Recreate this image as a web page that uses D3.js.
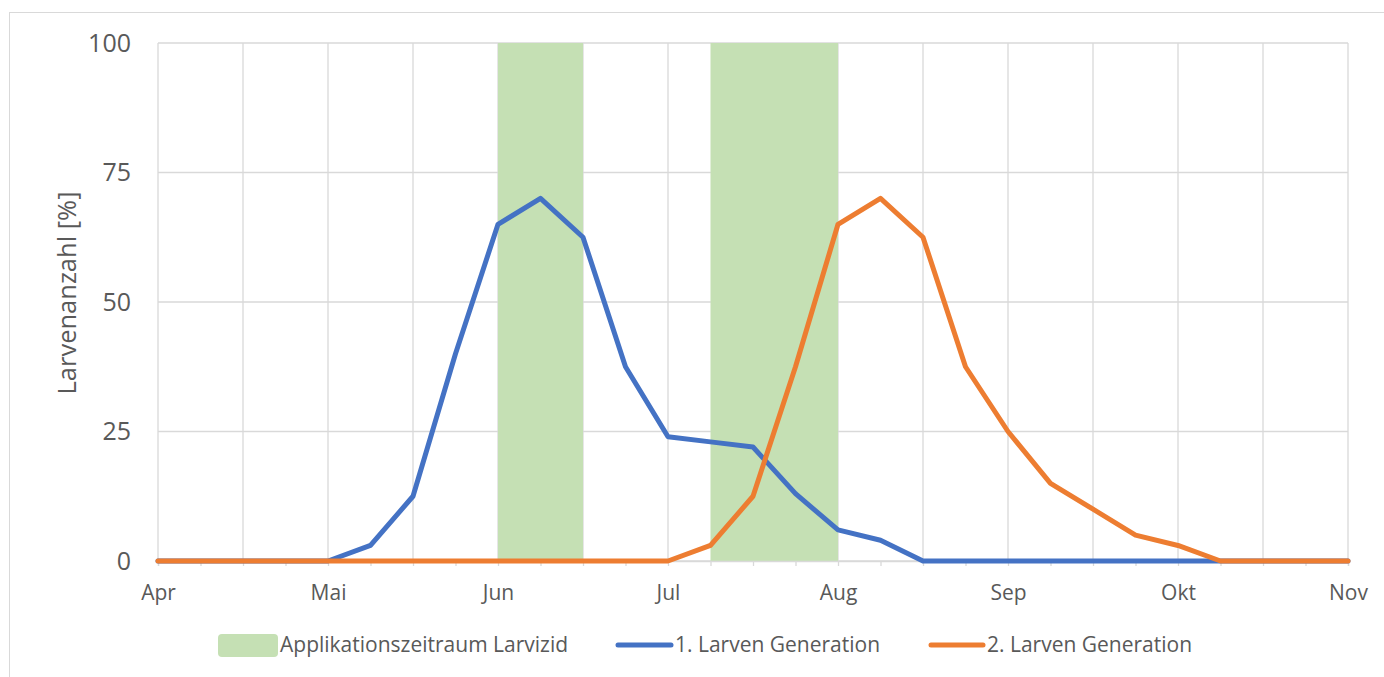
<!DOCTYPE html>
<html>
  <head>
  <title>Larven</title>
  <style>
    body, html {
      margin: 0;
      padding: 0;
      background: #fff;
    }
    text {
      font-family: "Open Sans", "Noto Sans", sans-serif;
      fill: #595959;
    }
  </style>
  </head>
  <body>

  <svg id="svg" width="1384" height="677"></svg>

  <script src="https://d3js.org/d3.v7.min.js"></script>
  <script>
    // one point every quarter month, Apr .. Nov
    const monthLabels = ['Apr', 'Mai', 'Jun', 'Jul', 'Aug', 'Sep', 'Okt', 'Nov']
    const yTicks = [0, 25, 50, 75, 100]

    const gen1 = [0, 0, 0, 0, 0, 3, 12.5, 40, 65, 70, 62.5, 37.5, 24, 23, 22, 13,
                  6, 4, 0, 0, 0, 0, 0, 0, 0, 0, 0, 0, 0]
    const gen2 = [0, 0, 0, 0, 0, 0, 0, 0, 0, 0, 0, 0, 0, 3, 12.5, 37.5,
                  65, 70, 62.5, 37.5, 25, 15, 10, 5, 3, 0, 0, 0, 0]

    // application windows, start / end as point index
    const appStart = [8, 13]
    const appEnd = [10, 16]

    const seriesNames = ['Applikationszeitraum Larvizid', '1. Larven Generation', '2. Larven Generation']
    const colors = ['#C5E0B4', '#4472C4', '#ED7D31']

    const margin = { top: 43, right: 36, bottom: 116, left: 158 }
    const width = 1384 - (margin.left + margin.right)
    const height = 677 - (margin.top + margin.bottom)

    const svg = d3.select('#svg')

    // outer chart border (runs off right/bottom like the source)
    svg.append('rect')
      .attr('x', 9.5).attr('y', 12.5)
      .attr('width', 1400).attr('height', 700)
      .attr('fill', 'none')
      .attr('stroke', '#D9D9D9')
      .attr('stroke-width', 1)

    const n = gen1.length - 1
    const xscale = d3.scaleLinear()
      .domain([0, n])
      .range([margin.left, margin.left + width])

    const yscale = d3.scaleLinear()
      .domain([0, 100])
      .range([margin.top + height, margin.top])

    // grid
    const grid = svg.append('g')
    grid.selectAll('line.h')
      .data(yTicks)
      .enter()
      .append('line')
      .attr('x1', xscale(0)).attr('x2', xscale(n))
      .attr('y1', d => yscale(d)).attr('y2', d => yscale(d))
      .attr('stroke', '#D9D9D9').attr('stroke-width', 1.3)

    grid.selectAll('line.v')
      .data(d3.range(0, n + 1, 2))
      .enter()
      .append('line')
      .attr('x1', d => xscale(d)).attr('x2', d => xscale(d))
      .attr('y1', yscale(0)).attr('y2', yscale(100))
      .attr('stroke', '#D9D9D9').attr('stroke-width', 1.3)

    // application bands
    svg.append('g')
      .selectAll('rect')
      .data(appStart.map((s, i) => [s, appEnd[i]]))
      .enter()
      .append('rect')
      .attr('x', d => xscale(d[0]))
      .attr('y', yscale(100))
      .attr('width', d => xscale(d[1]) - xscale(d[0]))
      .attr('height', yscale(0) - yscale(100))
      .attr('fill', colors[0])

    // bottom axis with a tick at every point
    const bottomAxis = d3.axisBottom(xscale)
      .tickValues(d3.range(0, n + 1))
      .tickSize(5)
      .tickFormat(d => d % 4 === 0 ? monthLabels[d / 4] : '')

    const xg = svg.append('g')
      .attr('transform', `translate(0, ${yscale(0)})`)
      .call(bottomAxis)
    xg.select('.domain').attr('stroke', '#D9D9D9').attr('stroke-width', 1.3)
    xg.selectAll('.tick line').attr('stroke', '#D9D9D9').attr('stroke-width', 1.3)
    xg.selectAll('.tick text')
      .attr('y', 39)
      .attr('dy', null)
      .style('font-size', '21px')
      .style('fill', '#595959')
      .attr('font-family', null)

    // left axis labels only
    const leftAxis = d3.axisLeft(yscale)
      .tickValues(yTicks)
      .tickSize(0)
      .tickPadding(27)
    const yg = svg.append('g')
      .attr('transform', `translate(${margin.left}, 0)`)
      .call(leftAxis)
    yg.select('.domain').remove()
    yg.selectAll('.tick text')
      .style('font-size', '25px')
      .style('fill', '#595959')
      .attr('font-family', null)

    svg.append('text')
      .attr('transform', 'translate(76, 293) rotate(-90)')
      .attr('text-anchor', 'middle')
      .style('font-size', '25.5px')
      .text('Larvenanzahl [%]')

    // lines
    const line = d3.line()
      .x((d, i) => xscale(i))
      .y(d => yscale(d))

    svg.append('path')
      .datum(gen1)
      .attr('d', line)
      .attr('fill', 'none')
      .attr('stroke', colors[1])
      .attr('stroke-width', 5)
      .attr('stroke-linejoin', 'round')
      .attr('stroke-linecap', 'round')

    svg.append('path')
      .datum(gen2)
      .attr('d', line)
      .attr('fill', 'none')
      .attr('stroke', colors[2])
      .attr('stroke-width', 5)
      .attr('stroke-linejoin', 'round')
      .attr('stroke-linecap', 'round')

    // legend
    const legend = svg.append('g').attr('transform', 'translate(0, 645)')
    legend.append('rect')
      .attr('x', 218).attr('y', -11)
      .attr('width', 60).attr('height', 23)
      .attr('rx', 4)
      .attr('fill', colors[0])
    legend.append('text')
      .attr('x', 280).attr('dy', '0.35em')
      .style('font-size', '21px')
      .text(seriesNames[0])

    legend.append('line')
      .attr('x1', 618).attr('x2', 671)
      .attr('stroke', colors[1]).attr('stroke-width', 5)
      .attr('stroke-linecap', 'round')
    legend.append('text')
      .attr('x', 675).attr('dy', '0.35em')
      .style('font-size', '21px')
      .text(seriesNames[1])

    legend.append('line')
      .attr('x1', 931).attr('x2', 983)
      .attr('stroke', colors[2]).attr('stroke-width', 5)
      .attr('stroke-linecap', 'round')
    legend.append('text')
      .attr('x', 987).attr('dy', '0.35em')
      .style('font-size', '21px')
      .text(seriesNames[2])
  </script>
  </body>
</html>
